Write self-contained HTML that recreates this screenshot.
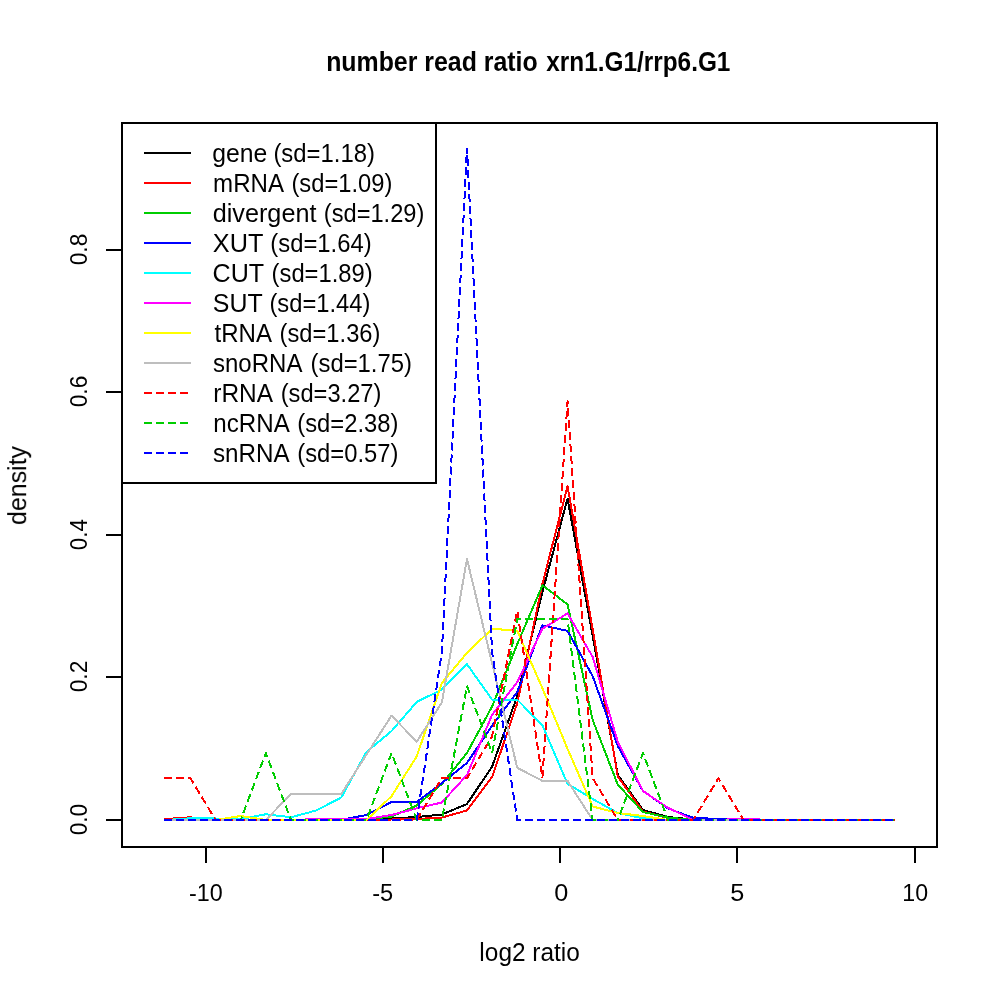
<!DOCTYPE html>
<html><head><meta charset="utf-8"><title>number read ratio xrn1.G1/rrp6.G1</title>
<style>
html,body{margin:0;padding:0;background:#fff;}
body{width:1000px;height:1000px;overflow:hidden;}
svg{display:block;}
text{font-family:"Liberation Sans",sans-serif;fill:#000;}
.ln{fill:none;stroke-width:2;stroke-linejoin:round;stroke-linecap:square;}
.ds{stroke-dasharray:6 6;}
</style></head><body>
<svg width="1000" height="1000" viewBox="0 0 1000 1000">
<rect x="0" y="0" width="1000" height="1000" fill="#ffffff"/>
<g shape-rendering="crispEdges">
<polyline class="ln" stroke="#000000" points="165.30,820.00 190.44,820.00 215.58,820.00 240.72,820.00 265.86,820.00 291.00,820.00 316.14,820.00 341.28,820.00 366.42,820.00 391.56,818.50 416.70,817.00 441.84,814.50 466.98,804.00 492.12,766.50 517.26,696.00 542.40,592.00 567.54,498.70 592.68,636.00 617.82,775.00 642.96,810.00 668.10,817.00 693.24,819.50 718.38,820.00 743.52,820.00 768.66,820.00 793.80,820.00 818.94,820.00 844.08,820.00 869.22,820.00 894.36,820.00"/>
<polyline class="ln" stroke="#FF0000" points="165.30,819.00 190.44,817.30 215.58,820.00 240.72,820.00 265.86,820.00 291.00,820.00 316.14,820.00 341.28,820.00 366.42,820.00 391.56,819.50 416.70,819.00 441.84,817.50 466.98,810.50 492.12,777.00 517.26,703.20 542.40,584.00 567.54,486.10 592.68,629.40 617.82,776.50 642.96,811.50 668.10,818.00 693.24,820.00 718.38,820.00 743.52,820.00 768.66,820.00 793.80,820.00 818.94,820.00 844.08,820.00 869.22,820.00 894.36,820.00"/>
<polyline class="ln" stroke="#00CD00" points="165.30,820.00 190.44,820.00 215.58,820.00 240.72,820.00 265.86,820.00 291.00,820.00 316.14,820.00 341.28,820.00 366.42,819.50 391.56,816.50 416.70,805.50 441.84,784.00 466.98,753.00 492.12,706.40 517.26,644.20 542.40,585.40 567.54,604.30 592.68,720.00 617.82,784.70 642.96,812.00 668.10,817.60 693.24,820.00 718.38,820.00 743.52,820.00 768.66,820.00 793.80,820.00 818.94,820.00 844.08,820.00 869.22,820.00 894.36,820.00"/>
<polyline class="ln" stroke="#0000FF" points="165.30,820.00 190.44,820.00 215.58,820.00 240.72,820.00 265.86,820.00 291.00,820.00 316.14,820.00 341.28,819.80 366.42,815.00 391.56,802.00 416.70,802.00 441.84,783.00 466.98,763.00 492.12,725.60 517.26,692.00 542.40,625.30 567.54,630.90 592.68,676.20 617.82,746.20 642.96,791.00 668.10,808.50 693.24,817.80 718.38,819.00 743.52,819.00 768.66,820.00 793.80,820.00 818.94,820.00 844.08,820.00 869.22,820.00 894.36,820.00"/>
<polyline class="ln" stroke="#00FFFF" points="165.30,820.00 190.44,818.30 215.58,818.50 240.72,819.00 265.86,814.25 291.00,817.25 316.14,810.50 341.28,797.50 366.42,752.00 391.56,731.00 416.70,702.00 441.84,689.50 466.98,664.20 492.12,699.70 517.26,699.70 542.40,725.30 567.54,783.80 592.68,799.00 617.82,813.00 642.96,818.30 668.10,820.00 693.24,820.00 718.38,820.00 743.52,820.00 768.66,820.00 793.80,820.00 818.94,820.00 844.08,820.00 869.22,820.00 894.36,820.00"/>
<polyline class="ln" stroke="#FF00FF" points="165.30,820.00 190.44,820.00 215.58,820.00 240.72,820.00 265.86,820.00 291.00,820.00 316.14,819.10 341.28,819.10 366.42,819.00 391.56,815.00 416.70,808.30 441.84,802.50 466.98,775.00 492.12,714.80 517.26,682.00 542.40,628.80 567.54,613.40 592.68,657.00 617.82,742.00 642.96,791.00 668.10,807.80 693.24,820.00 718.38,820.00 743.52,818.50 768.66,820.00 793.80,820.00 818.94,820.00 844.08,820.00 869.22,820.00 894.36,820.00"/>
<polyline class="ln" stroke="#FFFF00" points="165.30,820.00 190.44,820.00 215.58,820.00 240.72,816.00 265.86,820.00 291.00,820.00 316.14,820.00 341.28,820.00 366.42,820.00 391.56,796.20 416.70,756.50 441.84,683.00 466.98,652.80 492.12,628.80 517.26,630.70 542.40,688.30 567.54,748.80 592.68,806.50 617.82,813.00 642.96,816.00 668.10,820.00 693.24,820.00 718.38,820.00 743.52,820.00 768.66,820.00 793.80,820.00 818.94,820.00 844.08,820.00 869.22,820.00 894.36,820.00"/>
<polyline class="ln" stroke="#BEBEBE" points="165.30,820.00 190.44,820.00 215.58,820.00 240.72,820.00 265.86,820.00 291.00,793.90 316.14,793.90 341.28,793.90 366.42,754.75 391.56,715.60 416.70,741.70 441.84,702.55 466.98,559.00 492.12,663.40 517.26,767.80 542.40,780.85 567.54,780.85 592.68,820.00 617.82,820.00 642.96,820.00 668.10,820.00 693.24,820.00 718.38,820.00 743.52,820.00 768.66,820.00 793.80,820.00 818.94,820.00 844.08,820.00 869.22,820.00 894.36,820.00"/>
<polyline class="ln ds" stroke="#FF0000" points="165.30,778.15 190.44,778.15 215.58,820.00 240.72,820.00 265.86,820.00 291.00,820.00 316.14,820.00 341.28,820.00 366.42,820.00 391.56,820.00 416.70,820.00 441.84,778.15 466.98,778.15 492.12,736.30 517.26,610.75 542.40,778.15 567.54,401.50 592.68,778.15 617.82,820.00 642.96,820.00 668.10,820.00 693.24,820.00 718.38,778.15 743.52,820.00"/>
<polyline class="ln ds" stroke="#FF0000" stroke-dashoffset="6.42" points="743.52,820.00 768.66,820.00 793.80,820.00 818.94,820.00 844.08,820.00 869.22,820.00 894.36,820.00"/>
<polyline class="ln ds" stroke="#00CD00" points="165.30,820.00 190.44,820.00 215.58,820.00 240.72,820.00 265.86,753.04 291.00,820.00"/>
<polyline class="ln ds" stroke="#00CD00" stroke-dashoffset="3.70" points="291.00,820.00 316.14,820.00 341.28,820.00 366.42,820.00 391.56,753.04 416.70,820.00 441.84,820.00 466.98,686.08 492.12,753.04 517.26,619.12 542.40,619.12 567.54,619.12 592.68,820.00 617.82,820.00 642.96,753.04 668.10,820.00"/>
<polyline class="ln ds" stroke="#00CD00" stroke-dashoffset="9.30" points="668.10,820.00 693.24,820.00 718.38,820.00 743.52,820.00 768.66,820.00 793.80,820.00 818.94,820.00 844.08,820.00 869.22,820.00 894.36,820.00"/>
<polyline class="ln ds" stroke="#0000FF" points="165.30,820.00 190.44,820.00 215.58,820.00 240.72,820.00 265.86,820.00 291.00,820.00 316.14,820.00 341.28,820.00 366.42,820.00 391.56,820.00 416.70,820.00 441.84,652.10 466.98,148.40 492.12,652.10 517.26,820.00 542.40,820.00 567.54,820.00 592.68,820.00 617.82,820.00 642.96,820.00 668.10,820.00 693.24,820.00 718.38,820.00 743.52,820.00 768.66,820.00 793.80,820.00 818.94,820.00 844.08,820.00 869.22,820.00 894.36,820.00"/>
<rect x="122" y="123" width="815" height="724" fill="none" stroke="#000" stroke-width="2"/>
<line x1="206" y1="847" x2="206" y2="863" stroke="#000" stroke-width="2"/>
<line x1="383" y1="847" x2="383" y2="863" stroke="#000" stroke-width="2"/>
<line x1="560" y1="847" x2="560" y2="863" stroke="#000" stroke-width="2"/>
<line x1="737" y1="847" x2="737" y2="863" stroke="#000" stroke-width="2"/>
<line x1="915" y1="847" x2="915" y2="863" stroke="#000" stroke-width="2"/>
<line x1="106" y1="820" x2="122" y2="820" stroke="#000" stroke-width="2"/>
<line x1="106" y1="677" x2="122" y2="677" stroke="#000" stroke-width="2"/>
<line x1="106" y1="535" x2="122" y2="535" stroke="#000" stroke-width="2"/>
<line x1="106" y1="392" x2="122" y2="392" stroke="#000" stroke-width="2"/>
<line x1="106" y1="250" x2="122" y2="250" stroke="#000" stroke-width="2"/>
<rect x="122" y="123" width="314" height="360" fill="#fff" stroke="#000" stroke-width="2"/>
<line class="ln" x1="145" y1="153" x2="190" y2="153" stroke="#000000"/>
<line class="ln" x1="145" y1="183" x2="190" y2="183" stroke="#FF0000"/>
<line class="ln" x1="145" y1="213" x2="190" y2="213" stroke="#00CD00"/>
<line class="ln" x1="145" y1="243" x2="190" y2="243" stroke="#0000FF"/>
<line class="ln" x1="145" y1="273" x2="190" y2="273" stroke="#00FFFF"/>
<line class="ln" x1="145" y1="303" x2="190" y2="303" stroke="#FF00FF"/>
<line class="ln" x1="145" y1="333" x2="190" y2="333" stroke="#FFFF00"/>
<line class="ln" x1="145" y1="363" x2="190" y2="363" stroke="#BEBEBE"/>
<line class="ln ds" x1="145" y1="393" x2="190" y2="393" stroke="#FF0000"/>
<line class="ln ds" x1="145" y1="423" x2="190" y2="423" stroke="#00CD00"/>
<line class="ln ds" x1="145" y1="453" x2="190" y2="453" stroke="#0000FF"/>
</g>
<g style="opacity:0.999">
<text transform="translate(212.17,161.50) scale(1.0311,1.040)" font-size="24">gene</text>
<text transform="translate(273.41,161.50) scale(0.9950,1.040)" font-size="24">(sd=1.18)</text>
<text transform="translate(213.09,191.50) scale(1.0043,1.040)" font-size="24">mRNA</text>
<text transform="translate(291.41,191.50) scale(0.9899,1.040)" font-size="24">(sd=1.09)</text>
<text transform="translate(212.75,221.50) scale(1.0502,1.040)" font-size="24">divergent</text>
<text transform="translate(323.82,221.50) scale(0.9859,1.040)" font-size="24">(sd=1.29)</text>
<text transform="translate(212.87,251.50) scale(1.0534,1.040)" font-size="24">XUT</text>
<text transform="translate(270.31,251.50) scale(0.9929,1.040)" font-size="24">(sd=1.64)</text>
<text transform="translate(212.54,281.50) scale(1.0462,1.040)" font-size="24">CUT</text>
<text transform="translate(271.61,281.50) scale(0.9909,1.040)" font-size="24">(sd=1.89)</text>
<text transform="translate(212.75,311.50) scale(1.0390,1.040)" font-size="24">SUT</text>
<text transform="translate(269.41,311.50) scale(0.9899,1.040)" font-size="24">(sd=1.44)</text>
<text transform="translate(214.50,341.50) scale(1.0035,1.040)" font-size="24">tRNA</text>
<text transform="translate(279.62,341.50) scale(0.9879,1.040)" font-size="24">(sd=1.36)</text>
<text transform="translate(213.00,371.50) scale(1.0011,1.040)" font-size="24">snoRNA</text>
<text transform="translate(310.51,371.50) scale(0.9950,1.040)" font-size="24">(sd=1.75)</text>
<text transform="translate(213.27,401.50) scale(1.0193,1.040)" font-size="24">rRNA</text>
<text transform="translate(280.72,401.50) scale(0.9869,1.040)" font-size="24">(sd=3.27)</text>
<text transform="translate(213.29,431.50) scale(1.0067,1.040)" font-size="24">ncRNA</text>
<text transform="translate(297.21,431.50) scale(0.9919,1.040)" font-size="24">(sd=2.38)</text>
<text transform="translate(212.99,461.50) scale(1.0106,1.040)" font-size="24">snRNA</text>
<text transform="translate(297.21,461.50) scale(0.9919,1.040)" font-size="24">(sd=0.57)</text>
<text transform="translate(188.93,900.60) scale(0.9726,1.020)" font-size="24">-10</text>
<text transform="translate(372.22,900.60) scale(0.9845,1.020)" font-size="24">-5</text>
<text transform="translate(554.15,900.60) scale(1.0526,1.020)" font-size="24">0</text>
<text transform="translate(730.15,900.60) scale(1.0526,1.020)" font-size="24">5</text>
<text transform="translate(902.26,900.60) scale(0.9667,1.020)" font-size="24">10</text>
<text transform="translate(86.70,835.34) rotate(-90) scale(0.9427,1.020)" font-size="24">0.0</text>
<text transform="translate(86.70,692.35) rotate(-90) scale(0.9487,1.020)" font-size="24">0.2</text>
<text transform="translate(86.70,550.34) rotate(-90) scale(0.9367,1.020)" font-size="24">0.4</text>
<text transform="translate(86.70,407.35) rotate(-90) scale(0.9487,1.020)" font-size="24">0.6</text>
<text transform="translate(86.70,265.35) rotate(-90) scale(0.9487,1.020)" font-size="24">0.8</text>
<text transform="translate(479.37,960.60) scale(1.0187,1.050)" font-size="24">log2 ratio</text>
<text transform="translate(26.00,525.04) rotate(-90) scale(1.0400,1.080)" font-size="24">density</text>
<text transform="translate(326.13,70.80) scale(0.8730,1.000)" font-size="28.5" font-weight="bold">number read ratio</text>
<text transform="translate(546.33,70.80) scale(0.8549,1.000)" font-size="28.5" font-weight="bold">xrn1.G1/rrp6.G1</text>
</g>
</svg></body></html>
